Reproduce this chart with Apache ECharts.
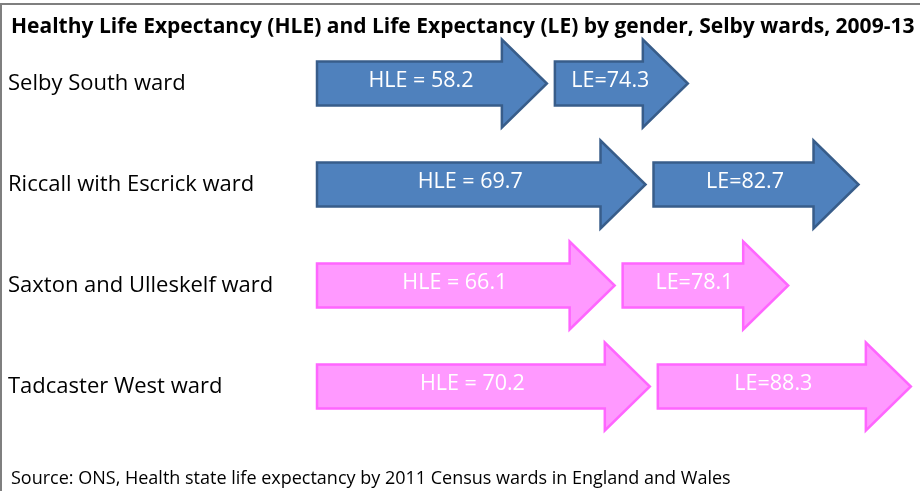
<!DOCTYPE html>
<html>
<head>
<meta charset="utf-8">
<script src="https://cdn.jsdelivr.net/npm/echarts@6/dist/echarts.min.js"></script>
<style>
  html, body { margin: 0; padding: 0; background: #fff; }
  #main { width: 920px; height: 491px; }
</style>
</head>
<body>
<div id="main"></div>
<script>
// wards, top to bottom
var wards = ['Selby South ward', 'Riccall with Escrick ward', 'Saxton and Ulleskelf ward', 'Tadcaster West ward'];
var gender = ['Male', 'Male', 'Female', 'Female'];
// healthy life expectancy, years
var hleValues = [58.2, 69.7, 66.1, 70.2];
// life expectancy, years
var leValues = [74.3, 82.7, 78.1, 88.3];

var titleText = 'Healthy Life Expectancy (HLE) and Life Expectancy (LE) by gender, Selby wards, 2009-13';
var sourceText = 'Source: ONS, Health state life expectancy by 2011 Census wards in England and Wales';

var FONT = '"Open Sans"';
var HLE_AXIS_MIN = 31.4;   // where the HLE arrows start on the hidden axis
var LE_BASE = 58.8;        // LE arrow length counts from here
var colours = {
  Male: { fill: '#4F81BD', stroke: '#385D8A' },
  Female: { fill: '#FF99FF', stroke: '#FF66FF' }
};

var chart = echarts.init(document.getElementById('main'), null, { renderer: 'canvas' });

var rows = wards.map(function (w, i) {
  return [i, hleValues[i], leValues[i]];
});

function arrowPoints(x0, tip, cy) {
  var bh = 44, hh = 88, hl = 45;
  var hb = tip - hl;
  return [
    [x0, cy - bh / 2], [hb, cy - bh / 2], [hb, cy - hh / 2], [tip, cy],
    [hb, cy + hh / 2], [hb, cy + bh / 2], [x0, cy + bh / 2]
  ];
}

function renderItem(params, api) {
  var row = api.value(0);
  var hle = api.value(1);
  var le = api.value(2);
  var c = colours[gender[row]];
  var start = api.coord([HLE_AXIS_MIN, row]);
  var hleTip = api.coord([hle, row])[0];
  var cy = start[1];
  var leStart = hleTip + 8;
  var leTip = leStart + api.size([le - LE_BASE, 1])[0];
  var style = { fill: c.fill, stroke: c.stroke, lineWidth: 2.5, lineJoin: 'miter' };
  var txt = { fill: '#fff', fontSize: 21.5, fontFamily: FONT, align: 'center', verticalAlign: 'middle' };
  return {
    type: 'group',
    children: [
      { type: 'polygon', shape: { points: arrowPoints(start[0], hleTip, cy) }, style: style },
      { type: 'text', x: (start[0] + hleTip - 22) / 2, y: cy - 3,
        style: Object.assign({ text: 'HLE = ' + hle.toFixed(1) }, txt) },
      { type: 'polygon', shape: { points: arrowPoints(leStart, leTip, cy) }, style: style },
      { type: 'text', x: (leStart + leTip - 22) / 2, y: cy - 3,
        style: Object.assign({ text: 'LE=' + le.toFixed(1) }, txt) }
    ]
  };
}

var option = {
  backgroundColor: '#fff',
  animation: false,
  title: [
    { text: titleText, left: 6, top: 12,
      textStyle: { fontFamily: FONT, fontSize: 21, fontWeight: 'bold', color: '#000' } },
    { text: sourceText, left: 6, top: 465,
      textStyle: { fontFamily: FONT, fontSize: 18, fontWeight: 'normal', color: '#000' } }
  ],
  grid: { left: 317, right: 0, top: 33, bottom: 54 },
  xAxis: { type: 'value', min: HLE_AXIS_MIN, max: 101.7, show: false },
  yAxis: {
    type: 'category', data: wards, inverse: true,
    axisLine: { show: false }, axisTick: { show: false }, splitLine: { show: false },
    axisLabel: { align: 'left', margin: 309, fontFamily: FONT, fontSize: 22, color: '#000',
      padding: [0, 0, 13, 0] }
  },
  graphic: [
    { type: 'line', shape: { x1: 0, y1: 4, x2: 920, y2: 4 }, style: { stroke: '#7f7f7f', lineWidth: 2 } },
    { type: 'line', shape: { x1: 1, y1: 4, x2: 1, y2: 491 }, style: { stroke: '#7f7f7f', lineWidth: 2 } }
  ],
  series: [{
    type: 'custom',
    renderItem: renderItem,
    encode: { x: [1, 2], y: 0 },
    data: rows
  }]
};

chart.setOption(option);
</script>
</body>
</html>
